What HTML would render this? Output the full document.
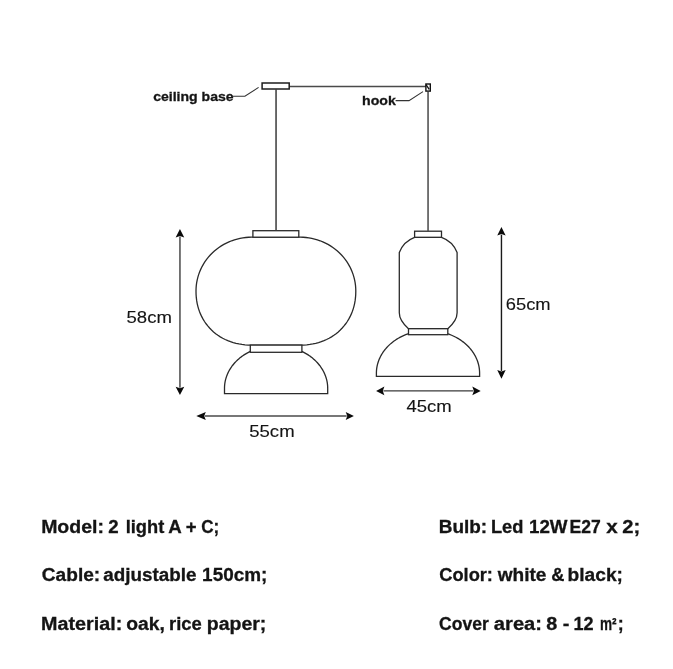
<!DOCTYPE html>
<html>
<head>
<meta charset="utf-8">
<style>
html,body{margin:0;padding:0;background:#fff;}
body{width:673px;height:669px;overflow:hidden;}
svg{display:block;will-change:transform;}
text{font-family:"Liberation Sans",sans-serif;fill:#141414;stroke:#141414;stroke-width:0.12px;}
.b{font-weight:bold;stroke-width:0.3px;}
</style>
</head>
<body>
<svg width="673" height="669" viewBox="0 0 673 669">
<polygon points="300.20,237.20 303.11,237.27 306.01,237.49 308.90,237.86 311.76,238.38 314.59,239.03 317.38,239.83 320.13,240.77 322.81,241.85 325.44,243.06 328.00,244.41 330.48,245.88 332.88,247.47 335.19,249.19 337.40,251.02 339.52,252.96 341.52,255.00 343.41,257.14 345.18,259.38 346.83,261.70 348.35,264.10 349.74,266.58 350.99,269.12 352.11,271.72 353.08,274.37 353.91,277.08 354.59,279.81 355.12,282.58 355.50,285.38 355.72,288.18 355.80,291.00 355.73,294.35 355.51,297.43 355.15,300.40 354.65,303.29 354.01,306.12 353.23,308.87 352.31,311.55 351.25,314.15 350.06,316.68 348.74,319.13 347.30,321.50 345.72,323.77 344.03,325.95 342.22,328.03 340.29,330.01 338.26,331.89 336.12,333.65 333.88,335.30 331.54,336.83 329.11,338.23 326.60,339.52 324.00,340.68 321.32,341.70 318.56,342.60 315.73,343.36 312.83,343.98 309.86,344.47 306.80,344.82 303.64,345.03 300.20,345.10 251.60,345.10 248.16,345.03 245.00,344.82 241.94,344.47 238.97,343.98 236.07,343.36 233.24,342.60 230.48,341.70 227.80,340.68 225.20,339.52 222.69,338.23 220.26,336.83 217.92,335.30 215.68,333.65 213.54,331.89 211.51,330.01 209.58,328.03 207.77,325.95 206.08,323.77 204.50,321.50 203.06,319.13 201.74,316.68 200.55,314.15 199.49,311.55 198.57,308.87 197.79,306.12 197.15,303.29 196.65,300.40 196.29,297.43 196.07,294.35 196.00,291.00 196.08,288.18 196.30,285.38 196.68,282.58 197.21,279.81 197.89,277.08 198.72,274.37 199.69,271.72 200.81,269.12 202.06,266.58 203.45,264.10 204.97,261.70 206.62,259.38 208.39,257.14 210.28,255.00 212.28,252.96 214.40,251.02 216.61,249.19 218.92,247.47 221.32,245.88 223.80,244.41 226.36,243.06 228.99,241.85 231.67,240.77 234.42,239.83 237.21,239.03 240.04,238.38 242.90,237.86 245.79,237.49 248.69,237.27 251.60,237.20" fill="none" stroke="#2a2a2a" stroke-width="1.3"/>
<rect x="252.9" y="230.7" width="45.9" height="6.5" fill="#fff" stroke="#2a2a2a" stroke-width="1.3"/>
<rect x="250.3" y="345.1" width="51.6" height="7.2" fill="#fff" stroke="#2a2a2a" stroke-width="1.3"/>
<polyline points="250.30,351.41 249.37,351.86 248.45,352.33 247.54,352.82 246.65,353.32 245.77,353.84 244.90,354.37 244.05,354.91 243.21,355.48 242.38,356.05 241.57,356.64 240.78,357.25 240.00,357.86 239.23,358.49 238.49,359.14 237.75,359.80 237.04,360.46 236.34,361.15 235.66,361.84 235.00,362.54 234.35,363.26 233.73,363.99 233.12,364.73 232.53,365.47 231.96,366.23 231.41,367.00 230.88,367.78 230.37,368.56 229.88,369.36 229.41,370.16 228.96,370.97 228.53,371.79 228.12,372.62 227.74,373.45 227.37,374.29 227.03,375.14 226.70,375.99 226.40,376.84 226.12,377.71 225.86,378.57 225.63,379.44 225.41,380.32 225.22,381.20 225.05,382.08 224.91,382.96 224.78,383.85 224.68,384.74 224.60,385.63 224.55,386.52 224.51,387.41 224.50,388.30 224.50,393.60 327.70,393.60 327.70,388.30 327.69,387.41 327.65,386.52 327.60,385.63 327.52,384.74 327.42,383.85 327.29,382.96 327.15,382.08 326.98,381.20 326.79,380.32 326.57,379.44 326.34,378.57 326.08,377.71 325.80,376.84 325.50,375.99 325.17,375.14 324.83,374.29 324.46,373.45 324.08,372.62 323.67,371.79 323.24,370.97 322.79,370.16 322.32,369.36 321.83,368.56 321.32,367.78 320.79,367.00 320.24,366.23 319.67,365.47 319.08,364.73 318.47,363.99 317.85,363.26 317.20,362.54 316.54,361.84 315.86,361.15 315.16,360.46 314.45,359.80 313.71,359.14 312.97,358.49 312.20,357.86 311.42,357.25 310.63,356.64 309.82,356.05 308.99,355.48 308.15,354.91 307.30,354.37 306.43,353.84 305.55,353.32 304.66,352.82 303.75,352.33 302.83,351.86 301.90,351.41" fill="none" stroke="#2a2a2a" stroke-width="1.3"/>
<path d="M414.6,237.4 A26,26 0 0 0 399.3,252.6 L399.3,312.8 C399.3,318.3 402.90000000000003,323.8 408.5,328.7 L447.8,328.7 C453.49999999999994,323.8 457.09999999999997,318.3 457.09999999999997,312.8 L457.09999999999997,252.6 A26,26 0 0 0 441.5,237.4 Z" fill="none" stroke="#2a2a2a" stroke-width="1.3"/>
<rect x="414.6" y="231.2" width="26.9" height="6.1" fill="#fff" stroke="#2a2a2a" stroke-width="1.3"/>
<rect x="408.5" y="328.7" width="39.3" height="6.0" fill="#fff" stroke="#2a2a2a" stroke-width="1.3"/>
<polyline points="408.50,333.67 407.37,334.06 406.26,334.47 405.16,334.91 404.07,335.37 403.00,335.85 401.94,336.35 400.89,336.87 399.86,337.41 398.84,337.97 397.84,338.55 396.86,339.15 395.90,339.77 394.95,340.41 394.02,341.07 393.11,341.74 392.22,342.43 391.35,343.14 390.50,343.87 389.67,344.61 388.87,345.37 388.08,346.14 387.32,346.93 386.58,347.74 385.86,348.55 385.17,349.39 384.50,350.23 383.86,351.09 383.24,351.96 382.64,352.84 382.07,353.74 381.53,354.64 381.01,355.56 380.52,356.48 380.05,357.42 379.62,358.36 379.21,359.31 378.82,360.27 378.47,361.24 378.14,362.21 377.84,363.19 377.57,364.17 377.32,365.16 377.11,366.16 376.92,367.16 376.76,368.16 376.63,369.16 376.53,370.17 376.46,371.18 376.41,372.19 376.40,373.20 376.40,376.30 479.60,376.30 479.60,373.20 479.59,372.19 479.54,371.19 479.47,370.19 479.37,369.19 479.24,368.19 479.09,367.19 478.90,366.20 478.69,365.21 478.45,364.22 478.18,363.24 477.88,362.27 477.56,361.30 477.20,360.34 476.82,359.38 476.42,358.43 475.98,357.50 475.52,356.57 475.04,355.64 474.52,354.73 473.99,353.83 473.42,352.94 472.83,352.06 472.22,351.19 471.58,350.34 470.92,349.50 470.23,348.67 469.52,347.85 468.79,347.05 468.04,346.26 467.26,345.49 466.46,344.73 465.64,343.99 464.80,343.27 463.94,342.56 463.06,341.87 462.15,341.19 461.24,340.54 460.30,339.90 459.34,339.28 458.37,338.68 457.38,338.10 456.37,337.53 455.35,336.99 454.31,336.47 453.26,335.97 452.19,335.48 451.11,335.02 450.02,334.58 448.92,334.17 447.80,333.77" fill="none" stroke="#2a2a2a" stroke-width="1.3"/>
<line x1="289.2" y1="86.5" x2="425.9" y2="86.5" stroke="#4a4a4a" stroke-width="1.4"/>
<line x1="276.05" y1="89.5" x2="276.05" y2="230.7" stroke="#3a3a3a" stroke-width="1.5"/>
<line x1="428.05" y1="91.8" x2="428.05" y2="231.2" stroke="#484848" stroke-width="1.5"/>
<rect x="262.1" y="83.0" width="27.1" height="6.0" fill="#fff" stroke="#1e1e1e" stroke-width="1.5"/>
<rect x="425.9" y="84.0" width="4.4" height="7.1" fill="none" stroke="#111" stroke-width="1.4"/>
<line x1="426.0" y1="84.6" x2="429.2" y2="89.4" stroke="#111" stroke-width="1.3"/>
<polyline points="232.6,96.2 244.9,96.2 258.6,87.4" fill="none" stroke="#333" stroke-width="1.1"/>
<polyline points="395.6,100.6 409,100.6 423,91.6" fill="none" stroke="#333" stroke-width="1.1"/>
<line x1="179.95" y1="236.6" x2="179.95" y2="387.7" stroke="#4a4a4a" stroke-width="1.5"/>
<path d="M179.95,229.0 L184.25,237.6 L179.95,236.0 L175.64999999999998,237.6 Z" fill="#0a0a0a"/>
<path d="M179.95,395.1 L184.25,386.7 L179.95,388.3 L175.64999999999998,386.7 Z" fill="#0a0a0a"/>
<line x1="204.8" y1="416.0" x2="346.7" y2="416.0" stroke="#4a4a4a" stroke-width="1.5"/>
<path d="M196.3,416.0 L205.8,411.9 L204.20000000000002,416.0 L205.8,420.1 Z" fill="#0a0a0a"/>
<path d="M353.9,416.0 L345.7,411.9 L347.3,416.0 L345.7,420.1 Z" fill="#0a0a0a"/>
<line x1="501.45" y1="234.6" x2="501.45" y2="371.0" stroke="#1a1a1a" stroke-width="1.4"/>
<path d="M501.45,227.0 L505.65,235.6 L501.45,234.0 L497.25,235.6 Z" fill="#0a0a0a"/>
<path d="M501.45,378.7 L505.65,370.0 L501.45,371.6 L497.25,370.0 Z" fill="#0a0a0a"/>
<line x1="383.4" y1="390.9" x2="473.3" y2="390.9" stroke="#3a3a3a" stroke-width="1.4"/>
<path d="M376.1,390.9 L384.4,386.5 L382.79999999999995,390.9 L384.4,395.29999999999995 Z" fill="#0a0a0a"/>
<path d="M480.7,390.9 L472.3,386.5 L473.90000000000003,390.9 L472.3,395.29999999999995 Z" fill="#0a0a0a"/>
<text class="b" x="153.15" y="100.60" font-size="13.5" textLength="80.55" lengthAdjust="spacingAndGlyphs">ceiling base</text>
<text class="b" x="362.03" y="104.70" font-size="13.5" textLength="33.77" lengthAdjust="spacingAndGlyphs">hook</text>
<text x="126.51" y="322.80" font-size="17" textLength="45.41" lengthAdjust="spacingAndGlyphs">58cm</text>
<text x="249.24" y="437.40" font-size="17" textLength="45.36" lengthAdjust="spacingAndGlyphs">55cm</text>
<text x="505.76" y="309.70" font-size="17" textLength="44.84" lengthAdjust="spacingAndGlyphs">65cm</text>
<text x="406.51" y="412.40" font-size="17" textLength="45.27" lengthAdjust="spacingAndGlyphs">45cm</text>
<text class="b" x="41.16" y="533.30" font-size="18" textLength="62.73" lengthAdjust="spacingAndGlyphs">Model:</text>
<text class="b" x="108.38" y="533.30" font-size="18" textLength="10.38" lengthAdjust="spacingAndGlyphs">2</text>
<text class="b" x="125.65" y="533.30" font-size="18" textLength="38.60" lengthAdjust="spacingAndGlyphs">light</text>
<text class="b" x="168.37" y="533.30" font-size="18" textLength="13.48" lengthAdjust="spacingAndGlyphs">A</text>
<text class="b" x="185.89" y="533.30" font-size="18" textLength="10.82" lengthAdjust="spacingAndGlyphs">+</text>
<text class="b" x="201.19" y="533.30" font-size="18" textLength="18.03" lengthAdjust="spacingAndGlyphs">C;</text>
<text class="b" x="41.84" y="581.00" font-size="18" textLength="58.36" lengthAdjust="spacingAndGlyphs">Cable:</text>
<text class="b" x="103.36" y="581.00" font-size="18" textLength="93.14" lengthAdjust="spacingAndGlyphs">adjustable</text>
<text class="b" x="202.11" y="581.00" font-size="18" textLength="65.20" lengthAdjust="spacingAndGlyphs">150cm;</text>
<text class="b" x="41.12" y="629.80" font-size="18" textLength="81.12" lengthAdjust="spacingAndGlyphs">Material:</text>
<text class="b" x="126.25" y="629.80" font-size="18" textLength="38.61" lengthAdjust="spacingAndGlyphs">oak,</text>
<text class="b" x="169.06" y="629.80" font-size="18" textLength="32.79" lengthAdjust="spacingAndGlyphs">rice</text>
<text class="b" x="206.74" y="629.80" font-size="18" textLength="59.58" lengthAdjust="spacingAndGlyphs">paper;</text>
<text class="b" x="438.76" y="533.30" font-size="18" textLength="48.42" lengthAdjust="spacingAndGlyphs">Bulb:</text>
<text class="b" x="490.96" y="533.30" font-size="18" textLength="32.48" lengthAdjust="spacingAndGlyphs">Led</text>
<text class="b" x="528.99" y="533.30" font-size="18" textLength="38.56" lengthAdjust="spacingAndGlyphs">12W</text>
<text class="b" x="569.48" y="533.30" font-size="18" textLength="31.25" lengthAdjust="spacingAndGlyphs">E27</text>
<text class="b" x="606.20" y="533.30" font-size="18" textLength="11.45" lengthAdjust="spacingAndGlyphs">x</text>
<text class="b" x="622.33" y="533.30" font-size="18" textLength="17.96" lengthAdjust="spacingAndGlyphs">2;</text>
<text class="b" x="439.26" y="581.00" font-size="18" textLength="53.70" lengthAdjust="spacingAndGlyphs">Color:</text>
<text class="b" x="497.71" y="581.00" font-size="18" textLength="48.75" lengthAdjust="spacingAndGlyphs">white</text>
<text class="b" x="551.20" y="581.00" font-size="18" textLength="13.15" lengthAdjust="spacingAndGlyphs">&amp;</text>
<text class="b" x="567.58" y="581.00" font-size="18" textLength="55.36" lengthAdjust="spacingAndGlyphs">black;</text>
<text class="b" x="439.08" y="629.80" font-size="18" textLength="49.68" lengthAdjust="spacingAndGlyphs">Cover</text>
<text class="b" x="493.87" y="629.80" font-size="18" textLength="48.15" lengthAdjust="spacingAndGlyphs">area:</text>
<text class="b" x="546.29" y="629.80" font-size="18" textLength="10.98" lengthAdjust="spacingAndGlyphs">8</text>
<text class="b" x="562.70" y="629.80" font-size="18" textLength="6.63" lengthAdjust="spacingAndGlyphs">-</text>
<text class="b" x="573.56" y="629.80" font-size="18" textLength="20.11" lengthAdjust="spacingAndGlyphs">12</text>
<text class="b" x="599.91" y="629.80" font-size="18" textLength="16.62" lengthAdjust="spacingAndGlyphs">m²</text>
<text class="b" x="617.81" y="629.80" font-size="18" textLength="6.00" lengthAdjust="spacingAndGlyphs">;</text>
</svg>
</body>
</html>
